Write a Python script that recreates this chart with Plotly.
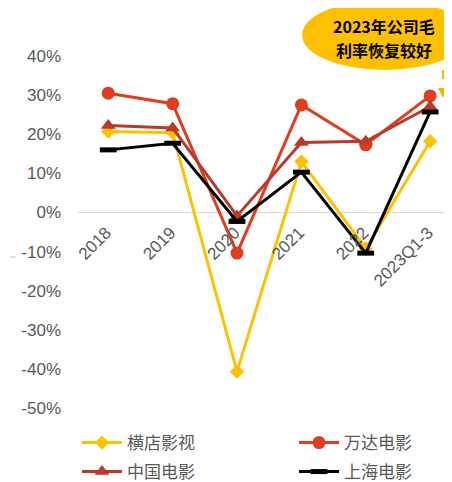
import plotly.graph_objects as go

categories = ["2018", "2019", "2020", "2021", "2022", "2023Q1-3"]
hengdian = [20.7, 20.4, -40.7, 13.0, -9.2, 18.2]
wanda = [30.5, 27.8, -10.4, 27.5, 17.3, 29.8]
zhongying = [22.2, 21.6, -0.9, 17.9, 18.2, 27.1]
shangying = [16.0, 17.7, -2.3, 10.3, -10.4, 25.7]
y_ticks = [40, 30, 20, 10, 0, -10, -20, -30, -40, -50]
callout_lines = ["2023年公司毛", "利率恢复较好"]

# page body has an 8px default margin; figure sized to fit the window
OFF = 8
W, H = 452 - OFF, 482 - OFF
ML, MT = 78 - OFF, 56 - OFF
MR, MB = 0, 482 - 408
PW, PH = W - ML - MR, H - MT - MB

def px(x):  # page pixel -> paper fraction
    return (x - OFF - ML) / PW

def py(y):
    return (H - MB - (y - OFF)) / PH

fig = go.Figure()
fig.add_trace(go.Scatter(x=categories, y=hengdian, name="横店影视", mode="lines+markers",
                         line=dict(color="#FFC000", width=3), legend="legend",
                         marker=dict(symbol="diamond", size=11, color="#FFC000")))
fig.add_trace(go.Scatter(x=categories, y=wanda, name="万达电影", mode="lines+markers",
                         line=dict(color="#E03C1F", width=3), legend="legend",
                         marker=dict(symbol="circle", size=13, color="#E03C1F")))
fig.add_trace(go.Scatter(x=categories, y=zhongying, name="中国电影", mode="lines+markers",
                         line=dict(color="#B83A2C", width=3), legend="legend2",
                         marker=dict(symbol="triangle-up", size=13, color="#B83A2C")))
fig.add_trace(go.Scatter(x=categories, y=shangying, name="上海电影", mode="lines+markers",
                         line=dict(color="#000000", width=3), legend="legend2",
                         marker=dict(symbol="line-ew", size=12, color="#000000",
                                     line=dict(color="#000000", width=5))))

legend_common = dict(orientation="h", xanchor="left", yanchor="middle",
                     entrywidth=162, entrywidthmode="pixels", traceorder="normal",
                     font=dict(family="Noto Sans CJK SC", size=17, color="#595959"),
                     itemwidth=40, bgcolor="rgba(0,0,0,0)")

fig.update_layout(
    width=W, height=H,
    margin=dict(l=ML, r=MR, t=MT, b=MB, autoexpand=False),
    paper_bgcolor="white", plot_bgcolor="white",
    font=dict(family="Liberation Sans, Arial, Noto Sans CJK SC", size=17, color="#595959"),
    xaxis=dict(range=[-0.47, 5.34], anchor="free", position=50 / 90,
               showgrid=False, showline=False, zeroline=False, ticks="",
               tickangle=-45, ticklabelstandoff=6, ticklabelshift=-2,
               tickfont=dict(size=17, color="#595959")),
    yaxis=dict(range=[-50, 40], tickvals=y_ticks, ticktext=[f"{v}%" for v in y_ticks],
               showgrid=False, zeroline=True, zerolinecolor="#D9D9D9", zerolinewidth=1,
               showline=False, ticks="", ticklabelstandoff=16,
               tickfont=dict(size=17, color="#595959")),
    legend=dict(legend_common, x=px(77), y=py(443)),
    legend2=dict(legend_common, x=px(77), y=py(472)),
    showlegend=True,
)

# callout ellipse
fig.add_shape(type="circle", xref="paper", yref="paper",
              x0=px(302), x1=px(468), y0=py(70), y1=py(0),
              fillcolor="#FFC000", line=dict(width=0), layer="above")
for text, yy in zip(callout_lines, [26, 50]):
    fig.add_annotation(xref="paper", yref="paper", x=px(384), y=py(yy),
                       text=f"<b>{text}</b>", showarrow=False, borderpad=0,
                       font=dict(family="Noto Sans CJK SC", size=16, color="#000000"),
                       xanchor="center", yanchor="middle")
# dashed arrow
fig.add_shape(type="line", xref="paper", yref="paper",
              x0=px(443), x1=px(443), y0=py(70), y1=py(89),
              line=dict(color="#F5B800", width=2, dash="dash"), layer="above")
fig.add_shape(type="path", xref="paper", yref="paper",
              path=f"M {px(438)} {py(88)} L {px(448)} {py(88)} L {px(443)} {py(98)} Z",
              fillcolor="#F5B800", line=dict(width=0), layer="above")
# small gray tick artifact at left
fig.add_shape(type="line", xref="paper", yref="paper",
              x0=px(10), x1=px(16), y0=py(257), y1=py(257),
              line=dict(color="#D9D9D9", width=1.5))

fig.write_html("out.html")
